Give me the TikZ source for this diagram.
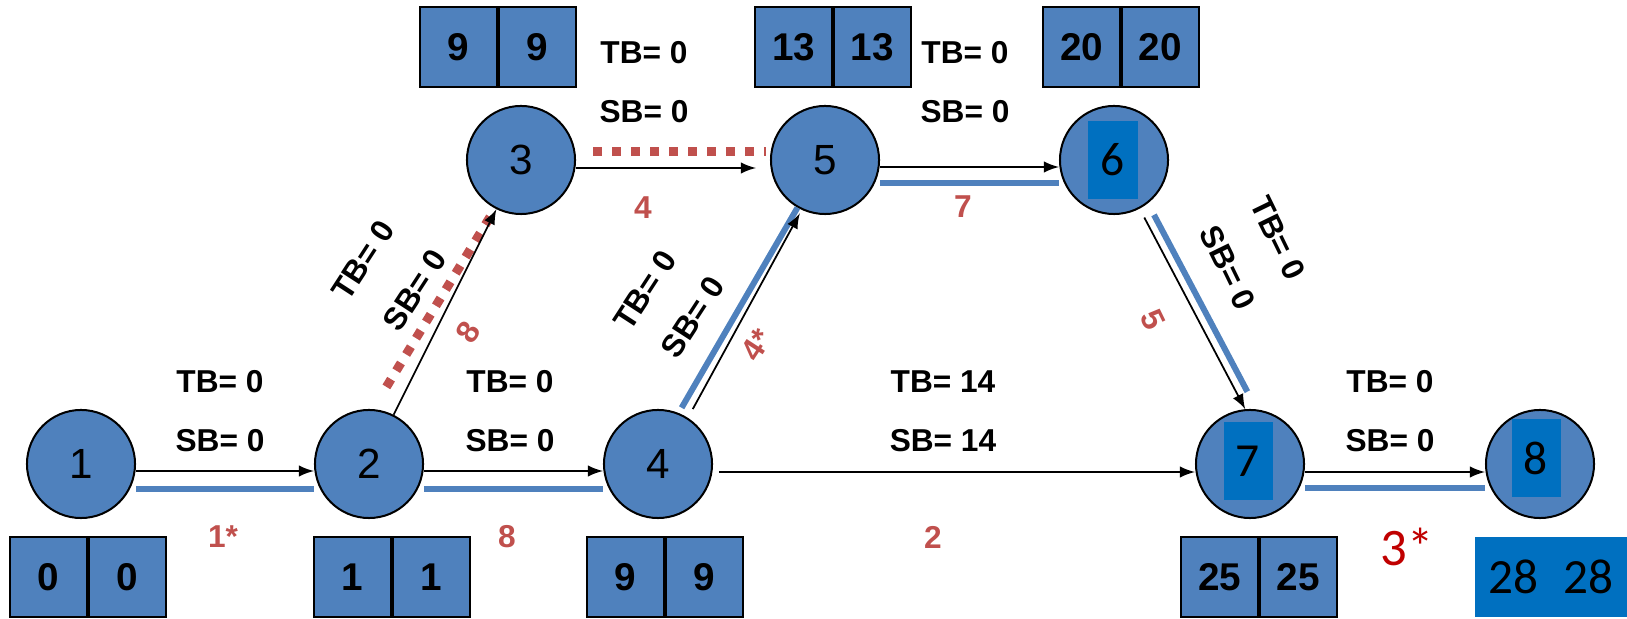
\documentclass[tikz,border=0pt]{standalone}
\usepackage{fontspec}
\setmainfont{Liberation Sans}
\newfontfamily\calibri{Carlito}
\usetikzlibrary{arrows}

\definecolor{nodeblue}{HTML}{4F81BD}
\definecolor{patchblue}{HTML}{0070C0}
\definecolor{durred}{HTML}{C0504D}
\definecolor{starred}{HTML}{C00000}

\tikzset{
	event/.style={circle, draw=black, line width=0.02cm, fill=nodeblue, minimum size=1.08cm, inner sep=0pt, font=\fontsize{12}{12}\selectfont},
	cell/.style={draw=black, line width=0.02cm, fill=nodeblue, minimum width=0.765cm, minimum height=0.8cm, inner sep=0pt, font=\bfseries\fontsize{11}{11}\selectfont},
	patchbox/.style={fill=patchblue, minimum width=0.49cm, minimum height=0.78cm, inner sep=0pt, font=\calibri\fontsize{13.5}{13.5}\selectfont},
	slack/.style={font=\bfseries\fontsize{9}{9}\selectfont},
	dur/.style={text=durred, font=\bfseries\fontsize{9}{9}\selectfont},
	activity/.style={-latex, line width=0.5pt},
	crit/.style={draw=nodeblue, line width=0.06cm},
	dashcrit/.style={draw=durred, line width=0.09cm, dash pattern=on 0.09cm off 0.1cm},
}

\begin{document}
\begin{tikzpicture}[x=0.01cm, y=-0.01cm]
		\useasboundingbox (0,0) rectangle (1627,619);
		
		\node[event] (n1) at (81,464) {1};
		\node[event] (n2) at (369,464) {2};
		\node[event] (n4) at (658,464) {4};
		\node[event] (n3) at (521,160) {3};
		\node[event] (n5) at (825,160) {5};
		\node[event] (n6) at (1114,160) {};
		\node[event] (n7) at (1250,464) {};
		\node[event] (n8) at (1540,464) {};
		
		\foreach \b/\x/\y/\v in {1/88/577/0, 2/392/577/1, 4/665/577/9, 7/1259/577/25, 3/498/47/9, 5/833/47/13, 6/1121/47/20} {
		\node[cell, anchor=east] (c\b a) at (\x,\y) {\v};
		\node[cell, anchor=west] (c\b b) at (\x,\y) {\v};
		}
		\node[patchbox, minimum width=1.52cm, minimum height=0.8cm, font=\calibri\fontsize{14}{14}\selectfont] (c8) at (1551,577) {28\hspace{7pt}28};
		
		% horizontal arcs
		\draw[crit] ([yshift=-0.25cm]n1.east) -- ([yshift=-0.25cm]n2.west);
		\draw[activity] ([yshift=-0.07cm]n1.east) -- ([yshift=-0.07cm]n2.west);
		\draw[crit] ([yshift=-0.25cm]n2.east) -- ([yshift=-0.25cm]n4.west);
		\draw[activity] ([yshift=-0.07cm]n2.east) -- ([yshift=-0.07cm]n4.west);
		\draw[activity, shorten <=0.06cm] ([yshift=-0.08cm]n4.east) -- ([yshift=-0.08cm]n7.west);
		\draw[crit] ([yshift=-0.24cm]n7.east) -- ([yshift=-0.24cm]n8.west);
		\draw[activity] ([yshift=-0.08cm]n7.east) -- ([yshift=-0.08cm]n8.west);
		\draw[dashcrit, shorten <=0.17cm, shorten >=0.04cm] ([yshift=0.08cm]n3.east) -- ([yshift=0.08cm]n5.west);
		\draw[activity, shorten >=0.14cm] ([yshift=-0.08cm]n3.east) -- ([yshift=-0.08cm]n5.west);
		\draw[crit] ([yshift=-0.23cm]n5.east) -- ([yshift=-0.23cm]n6.west);
		\draw[activity] ([yshift=-0.07cm]n5.east) -- ([yshift=-0.07cm]n6.west);
		
		% sloped arcs
		\draw[dashcrit, shorten <=0.26cm] (n2.86) -- (n3.242);
		\draw[activity] (n2) -- (n3);
		\draw[crit, shorten <=0.06cm] (n4.68) -- (n5.240);
		\draw[activity, shorten <=0.1cm, shorten >=0.04cm] (n4.57) -- (n5.245);
		\draw[crit, shorten <=0.13cm, shorten >=0.2cm] (n6.-52) -- (n7.83);
		\draw[activity, shorten <=0.1cm] (n6) -- (n7.95);
		
		\node[patchbox] (p6) at (1113,160) {6};
		\node[patchbox] (p7) at (1248,461) {7};
		\node[patchbox] (p8) at (1536,458) {8};
		
		% floats
		\foreach \e/\x/\y/\tv in {12/220/382/0, 24/510/382/0, 47/943/382/14, 78/1390/382/0, 35/644/53/0, 56/965/53/0} {
		\node[slack] (tb\e) at (\x,\y) {TB= \tv};
		\node[slack] (sb\e) at (\x,\y+59) {SB= \tv};
		}
		\node[slack, rotate=57] (tb23) at (363,260) {TB= 0};
		\node[slack, rotate=57] (sb23) at (415,290) {SB= 0};
		\node[slack, rotate=57] (tb45) at (645,290) {TB= 0};
		\node[slack, rotate=57] (sb45) at (693,317) {SB= 0};
		\node[slack, rotate=-64] (tb67) at (1278,238) {TB= 0};
		\node[slack, rotate=-64] (sb67) at (1228,268) {SB= 0};
		
		% durations
		\node[dur] (d12) at (223,537) {1*};
		\node[dur] (d24) at (507,537) {8};
		\node[dur, rotate=57] (d23) at (468,332) {8};
		\node[dur] (d35) at (643,208) {4};
		\node[dur, rotate=57] (d45) at (757,345) {4*};
		\node[dur] (d56) at (963,207) {7};
		\node[dur] (d47) at (933,537) {2};
		\node[dur, rotate=-64] (d67) at (1153,320) {5};
		\node[text=starred, font=\calibri\fontsize{15}{15}\selectfont] (d78) at (1407,547) {3*};
	\end{tikzpicture}
\end{document}
